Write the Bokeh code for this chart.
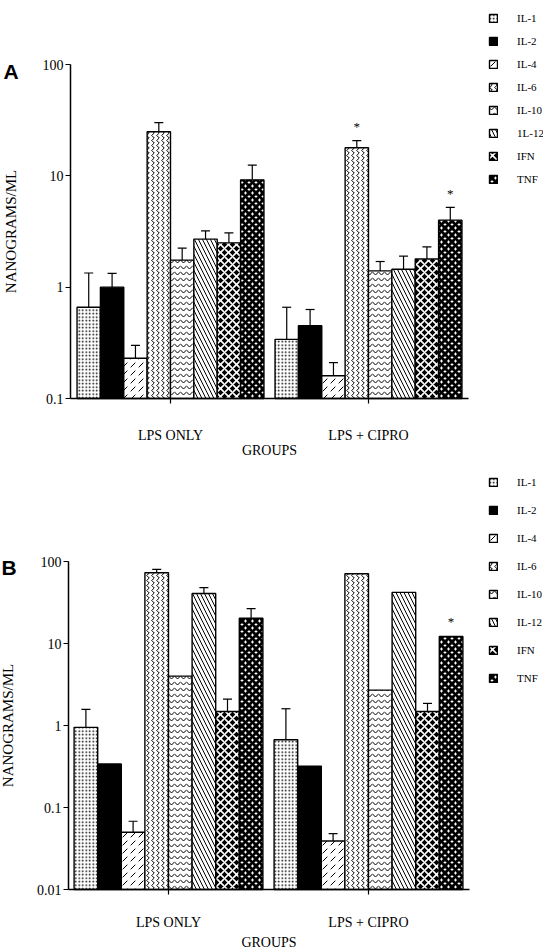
import math
from bokeh.plotting import figure
from bokeh.models import (ColumnDataSource, FixedTicker, CustomJSTickFormatter, Legend,
                          LegendItem, Whisker, TeeHead, Label, Range1d)
from bokeh.layouts import column
from bokeh.embed import file_html
from bokeh.resources import INLINE
from bokeh.core.properties import value

# ---------------- data ----------------
groups = ["LPS ONLY", "LPS + CIPRO"]
cytokines = ["IL-1", "IL-2", "IL-4", "IL-6", "IL-10", "IL-12", "IFN", "TNF"]
legend_a = ["IL-1", "IL-2", "IL-4", "IL-6", "IL-10", "1L-12", "IFN", "TNF"]
legend_b = ["IL-1", "IL-2", "IL-4", "IL-6", "IL-10", "IL-12", "IFN", "TNF"]

# Panel A (ng/mL): mean and top of error bar
a_lps = [0.66, 1.0, 0.23, 24.9, 1.75, 2.7, 2.5, 9.2]
a_lps_err = [1.34, 1.33, 0.30, 30.0, 2.24, 3.2, 3.07, 12.5]
a_cipro = [0.34, 0.45, 0.16, 17.9, 1.4, 1.45, 1.79, 4.0]
a_cipro_err = [0.66, 0.63, 0.21, 20.7, 1.7, 1.9, 2.3, 5.2]
a_sig = [False, False, False, True, False, False, False, True]

# Panel B (ng/mL)
b_lps = [0.95, 0.34, 0.05, 73.0, 4.0, 40.7, 1.48, 20.3]
b_lps_err = [1.57, None, 0.068, 80.0, None, 48.0, 2.1, 26.7]
b_cipro = [0.67, 0.32, 0.039, 71.0, 2.7, 42.0, 1.48, 12.2]
b_cipro_err = [1.6, None, 0.048, None, None, None, 1.86, None]
b_sig = [False, False, False, False, False, False, False, True]

a_yticks = [0.1, 1, 10, 100]
b_yticks = [0.01, 0.1, 1, 10, 100]

# ---------------- styles ----------------
SERIF = "Liberation Serif"
fills = ["white", "black", "white", "white", "white", "white", "black", "white"]
hatches = [".", " ", ",", ">", "v", "\\", "x", "x"]
hatch_colors = ["black", "black", "black", "black", "black", "black", "white", "black"]
hatch_scales = [3.5, 12, 8, 5, 6, 8, 8, 7]
hatch_weights = [1, 1, 1, 1, 1, 1, 1.6, 3]
BW = 0.118
W = 543


def make_panel(letter, lps, lps_err, cip, cip_err, sig, labels, yticks,
               height, ax_left, ax_right, ax_top, ax_bottom, g1_center, px_per_unit,
               label_standoff, axis_label_standoff, y_label_standoff,
               leg_x, leg_bottom, leg_spacing, star_factor, letter_pos):
    # map the whole canvas to data space; axes are drawn at fixed locations
    lo, hi = yticks[0], yticks[-1]
    decades = math.log10(hi) - math.log10(lo)
    ppd = (ax_bottom - ax_top) / decades
    y_start = 10 ** (math.log10(lo) - (height - ax_bottom) / ppd)
    y_end = 10 ** (math.log10(hi) + ax_top / ppd)
    x_start = 1 - g1_center / px_per_unit
    x_end = 1 + (W - g1_center) / px_per_unit
    xb0 = 1 - (g1_center - ax_left) / px_per_unit
    xb1 = 1 + (ax_right - g1_center) / px_per_unit

    p = figure(width=W, height=height, output_backend="svg", toolbar_location=None,
               y_axis_type="log", x_range=Range1d(x_start, x_end),
               y_range=Range1d(y_start, y_end), min_border=0)
    p.outline_line_color = None
    p.xgrid.visible = False
    p.ygrid.visible = False
    p.background_fill_color = "white"

    renderers = []
    ex, elo, ehi = [], [], []
    sx, sy = [], []
    for i in range(len(cytokines)):
        off = (i - 3.5) * BW
        xs = [1 + off, 2 + off]
        src = ColumnDataSource(dict(x=xs, top=[lps[i], cip[i]]))
        r = p.vbar(x="x", top="top", bottom=lo, width=BW, source=src,
                   fill_color=fills[i], line_color="black", line_width=1.4,
                   hatch_pattern=hatches[i], hatch_color=hatch_colors[i],
                   hatch_scale=hatch_scales[i], hatch_weight=hatch_weights[i])
        renderers.append(r)
        for gx, m, e in ((xs[0], lps[i], lps_err[i]), (xs[1], cip[i], cip_err[i])):
            if e is not None:
                ex.append(gx); elo.append(m); ehi.append(e)
        if sig[i]:
            top = cip_err[i] if cip_err[i] is not None else cip[i]
            sx.append(xs[1]); sy.append(top * star_factor)

    wsrc = ColumnDataSource(dict(x=ex, lo=elo, hi=ehi))
    p.add_layout(Whisker(source=wsrc, base="x", lower="lo", upper="hi",
                         line_color="black", line_width=1.2,
                         upper_head=TeeHead(size=9, line_width=1.2), lower_head=None))

    if sx:
        p.text(x=sx, y=sy, text=["*"] * len(sx), text_align="center",
               text_baseline="middle", text_font=value(SERIF), text_font_size="13px",
               text_color="black")

    # axes, drawn at fixed data locations with bounds
    p.yaxis.fixed_location = xb0
    p.yaxis.bounds = (lo, hi)
    p.xaxis.fixed_location = lo
    p.xaxis.bounds = (xb0, xb1)
    p.yaxis.ticker = FixedTicker(ticks=yticks, minor_ticks=[])
    p.yaxis.formatter = CustomJSTickFormatter(code="return String(tick);")
    p.yaxis.axis_label = "NANOGRAMS/ML"
    p.xaxis.ticker = FixedTicker(ticks=[1, 2], minor_ticks=[])
    p.xaxis.major_label_overrides = {1: groups[0], 2: groups[1]}
    p.xaxis.axis_label = "GROUPS"
    for ax in (p.xaxis, p.yaxis):
        ax.axis_line_width = 1.5
        ax.axis_line_color = "black"
        ax.major_tick_line_color = "black"
        ax.major_tick_line_width = 1.2
        ax.major_tick_in = 0
        ax.major_tick_out = 5
        ax.minor_tick_line_color = None
        ax.major_label_text_font = SERIF
        ax.major_label_text_font_size = "14px"
        ax.major_label_text_color = "black"
        ax.axis_label_text_font = SERIF
        ax.axis_label_text_font_size = "14px"
        ax.axis_label_text_font_style = "normal"
        ax.axis_label_text_color = "black"
    p.yaxis.axis_label_text_font_size = "15px"
    p.yaxis.major_label_standoff = 2
    p.xaxis.major_label_standoff = label_standoff
    p.xaxis.axis_label_standoff = axis_label_standoff
    p.yaxis.axis_label_standoff = y_label_standoff

    legend = Legend(items=[LegendItem(label=labels[i], renderers=[renderers[i]])
                           for i in range(len(labels))],
                    location=(leg_x, height - leg_bottom), orientation="vertical",
                    glyph_width=10, glyph_height=10, label_height=10,
                    label_standoff=19, spacing=leg_spacing, padding=0, margin=0,
                    border_line_color=None, background_fill_alpha=0,
                    label_text_font=SERIF, label_text_font_size="11px",
                    label_text_color="black")
    p.add_layout(legend)

    lx = x_start + letter_pos[0] / px_per_unit
    ly = 10 ** (math.log10(y_end) - letter_pos[1] / ppd)
    p.add_layout(Label(x=lx, y=ly, text=letter,
                       text_font="Liberation Sans", text_font_style="bold",
                       text_font_size="21px", text_baseline="middle",
                       text_align="left", text_color="black"))
    return p


pa = make_panel("A", a_lps, a_lps_err, a_cipro, a_cipro_err, a_sig, legend_a, a_yticks,
                height=470, ax_left=70, ax_right=468, ax_top=64, ax_bottom=398,
                g1_center=170, px_per_unit=198,
                label_standoff=24, axis_label_standoff=-3, y_label_standoff=21,
                leg_x=488, leg_bottom=185, leg_spacing=11, star_factor=1.34,
                letter_pos=(3, 71))
pb = make_panel("B", b_lps, b_lps_err, b_cipro, b_cipro_err, b_sig, legend_b, b_yticks,
                height=479, ax_left=68, ax_right=469, ax_top=91, ax_bottom=419,
                g1_center=168, px_per_unit=200,
                label_standoff=20, axis_label_standoff=2, y_label_standoff=18,
                leg_x=488, leg_bottom=214, leg_spacing=16, star_factor=1.5,
                letter_pos=(1, 97))

layout = column(pa, pb, spacing=0)
open("out.html", "w").write(file_html(layout, INLINE))
